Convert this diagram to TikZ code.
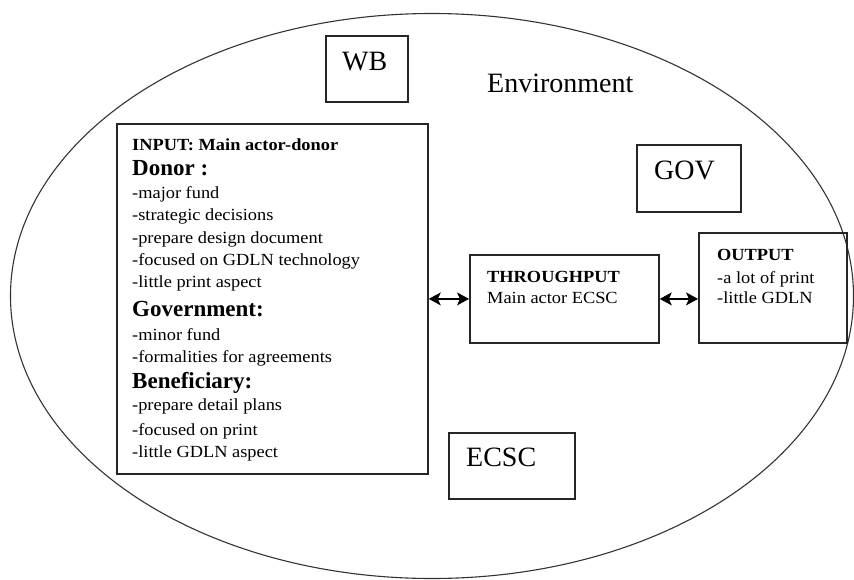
\documentclass[tikz,border=0pt]{standalone}
\usepackage{fontspec}
\setmainfont{Liberation Serif}
\newfontfamily\widefont[FakeStretch=1.08]{Liberation Serif}
\usetikzlibrary{shapes.geometric,arrows.meta}
\begin{document}
\begin{tikzpicture}[x=1pt,y=-1pt,
  box/.style={draw=black!85, line width=1.8pt, inner sep=0pt, anchor=north west},
  ln/.style={anchor=base west, inner sep=0pt, font=\widefont\fontsize{17}{20}\selectfont},
  lnb/.style={ln, font=\widefont\bfseries\fontsize{17}{20}\selectfont},
  head/.style={anchor=base west, inner sep=0pt, font=\bfseries\fontsize{23}{26}\selectfont},
  big/.style={anchor=base west, inner sep=0pt, font=\fontsize{28}{31}\selectfont},
  tip/.tip={Stealth[length=12pt,width=13pt,inset=3pt,line width=0.8pt]},
  link/.style={tip-tip, line width=1.8pt, draw=black}]
\useasboundingbox (0,0) rectangle (854,579);

% surrounding environment
\node[draw=black!80, line width=1.1pt, ellipse, inner sep=0pt,
      minimum width=843pt, minimum height=565pt] (env) at (432,296) {};
\node[big] (envtxt) at (487,92) {Environment};

% outside actors
\node[box, minimum width=82pt, minimum height=66pt] (wb) at (325,35) {};
\node[big] (wbtxt) at (342,70) {WB};
\node[box, minimum width=104pt, minimum height=67pt] (gov) at (636,144) {};
\node[big] (govtxt) at (654,179) {GOV};
\node[box, minimum width=126pt, minimum height=66pt] (ecsc) at (448,432) {};
\node[big] (ecsctxt) at (466,466) {ECSC};

% input block
\node[box, minimum width=311pt, minimum height=350pt] (input) at (116,123) {};
\foreach \n/\yy/\st/\tx in {
  1/150/lnb/INPUT: Main actor-donor,
  2/175/head/Donor :,
  3/198/ln/-major fund,
  4/220/ln/-strategic decisions,
  5/243/ln/-prepare design document,
  6/265/ln/-focused on GDLN technology,
  7/287/ln/-little print aspect,
  8/316/head/Government:,
  9/340/ln/-minor fund,
  10/362/ln/-formalities for agreements,
  11/388/head/Beneficiary:,
  12/410/ln/-prepare detail plans,
  13/435/ln/-focused on print,
  14/457/ln/-little GDLN aspect}
  \node[\st] (in\n) at (132,\yy) {\tx};

% throughput block
\node[box, minimum width=189pt, minimum height=88pt] (thr) at (469,254) {};
\node[lnb] (thr1) at (487,282) {THROUGHPUT};
\node[ln] (thr2) at (487,303) {Main actor ECSC};

% output block
\node[box, minimum width=148pt, minimum height=110pt] (out) at (698,232) {};
\node[lnb] (out1) at (717,260) {OUTPUT};
\node[ln] (out2) at (717,283) {-a lot of print};
\node[ln] (out3) at (717,303) {-little GDLN};

% two-way links
\draw[link] (input.east |- thr.west) -- (thr.west);
\draw[link] (thr.east) -- (thr.east -| out.west);
\end{tikzpicture}
\end{document}
